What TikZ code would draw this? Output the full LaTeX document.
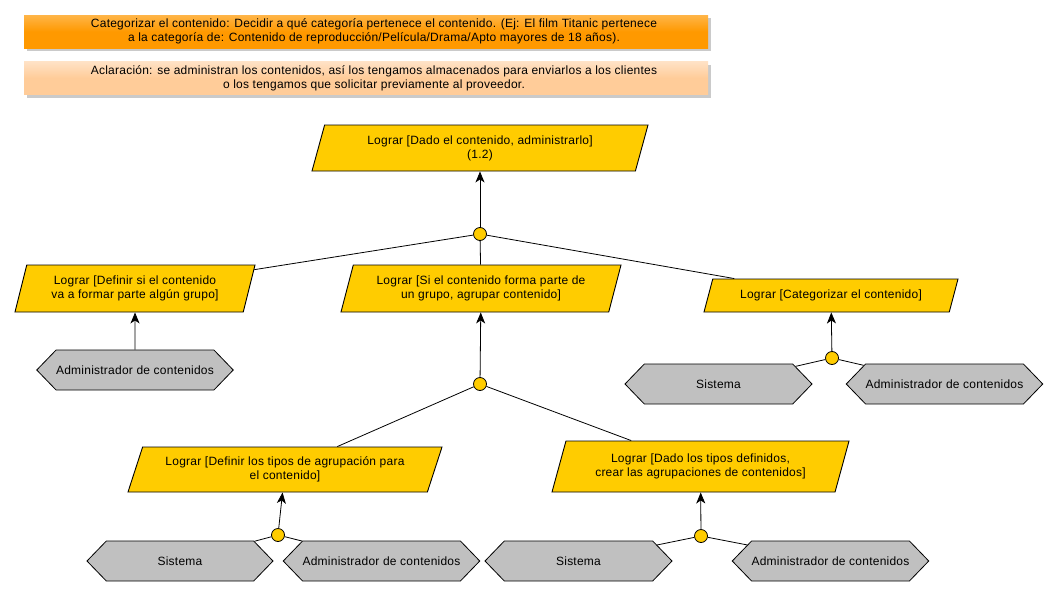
\documentclass[tikz,border=0pt]{standalone}
\usepackage{fontspec}
\setmainfont[LetterSpace=2]{Liberation Sans}
\usetikzlibrary{shapes.geometric,shapes.symbols,shadows,arrows.meta}
\definecolor{goalyellow}{HTML}{FFCC00}
\definecolor{actorgray}{HTML}{C0C0C0}
\definecolor{banA}{HTML}{FF9900}
\definecolor{banAlight}{HTML}{FFB548}
\definecolor{banB}{HTML}{FFCC99}
\definecolor{banBlight}{HTML}{FFE2C6}
\newcommand{\shiftln}{\hspace*{16pt}}
\tikzset{
  every node/.style={font=\fontsize{12}{14}\selectfont},
  goal/.style={trapezium, trapezium stretches body, draw=black, line width=0.9pt,
    fill=goalyellow, inner sep=0pt, align=center},
  actor/.style={signal, signal to=west and east, signal pointer angle=92, draw=black,
    line width=0.8pt, fill=actorgray, inner sep=0pt, minimum height=40pt},
  junction/.style={circle, draw=black, line width=0.8pt, fill=goalyellow, inner sep=0pt,
    minimum size=13pt},
  banner/.style={inner sep=0pt, minimum width=684pt, minimum height=33pt, align=center,
    drop shadow={shadow xshift=3pt, shadow yshift=-3pt, opacity=0.35, fill=black!60}},
  link/.style={draw=black, line width=0.8pt},
  arrowlink/.style={link, -{Stealth[length=11pt,width=9pt,inset=3pt]}}
}
\begin{document}
\begin{tikzpicture}[x=1pt,y=-1pt]
\useasboundingbox (0,0) rectangle (1056,597);

% banners
\node[banner, top color=banAlight, bottom color=banA, middle color=banA] (ban1) at (366,31.5)
  {\shiftln Categorizar el contenido: Decidir a qué categoría pertenece el contenido. (Ej: El film Titanic pertenece\\
   \shiftln a la categoría de: Contenido de reproducción/Película/Drama/Apto mayores de 18 años).};
\node[banner, top color=banBlight, bottom color=banB, middle color=banB] (ban2) at (366,78)
  {\shiftln Aclaración: se administran los contenidos, así los tengamos almacenados para enviarlos a los clientes\\
   \shiftln o los tengamos que solicitar previamente al proveedor.};

% goals
\node[goal, trapezium left angle=63.4, trapezium right angle=116.6, minimum width=336pt, minimum height=46pt]
  (g0) at (480,148) {Lograr [Dado el contenido, administrarlo]\\(1.2)};
\node[goal, trapezium left angle=65, trapezium right angle=115, minimum width=240pt, minimum height=47pt]
  (g1) at (135,288.5) {Lograr [Definir si el contenido\\va a formar parte algún grupo]};
\node[goal, trapezium left angle=64, trapezium right angle=116, minimum width=280pt, minimum height=47pt]
  (g2) at (481,288.5) {Lograr [Si el contenido forma parte de\\un grupo, agrupar contenido]};
\node[goal, trapezium left angle=52, trapezium right angle=128, minimum width=254pt, minimum height=33pt]
  (g3) at (831,295.5) {Lograr [Categorizar el contenido]};
\node[goal, trapezium left angle=60, trapezium right angle=120, minimum width=314pt, minimum height=45pt]
  (g4) at (285,469.5) {Lograr [Definir los tipos de agrupación para\\el contenido]};
\node[goal, trapezium left angle=61, trapezium right angle=119, minimum width=297pt, minimum height=51pt]
  (g5) at (700.5,466.5) {Lograr [Dado los tipos definidos,\\crear las agrupaciones de contenidos]};

% actors
\node[actor, minimum width=194pt] (a1) at (135,370) {Administrador de contenidos};
\node[actor, minimum width=187pt] (a2) at (718.5,384) {Sistema};
\node[actor, minimum width=193pt] (a3) at (944.5,384) {Administrador de contenidos};
\node[actor, minimum width=186pt] (a4) at (180,561) {Sistema};
\node[actor, minimum width=193pt] (a5) at (381.5,561) {Administrador de contenidos};
\node[actor, minimum width=187pt] (a6) at (578.5,561) {Sistema};
\node[actor, minimum width=193pt] (a7) at (830.5,561) {Administrador de contenidos};

% junctions
\node[junction] (c0) at (480,234) {};
\node[junction] (c1) at (480,384) {};
\node[junction] (c2) at (832,358) {};
\node[junction] (c3) at (278,535) {};
\node[junction] (c4) at (701,536) {};

% connectors
\draw[arrowlink] (c0) -- (g0);
\draw[link] (c0) -- (g1);
\draw[link] (c0) -- (g2);
\draw[link] (c0) -- (g3);
\draw[arrowlink] (a1) -- (g1);
\draw[arrowlink] (c1) -- (g2);
\draw[link] (c1) -- (g4);
\draw[link] (c1) -- (g5);
\draw[arrowlink] (c2) -- (g3);
\draw[link] (c2) -- (a2);
\draw[link] (c2) -- (a3);
\draw[arrowlink] (c3) -- (g4);
\draw[link] (c3) -- (a4);
\draw[link] (c3) -- (a5);
\draw[arrowlink] (c4) -- (g5);
\draw[link] (c4) -- (a6);
\draw[link] (c4) -- (a7);
\end{tikzpicture}
\end{document}
